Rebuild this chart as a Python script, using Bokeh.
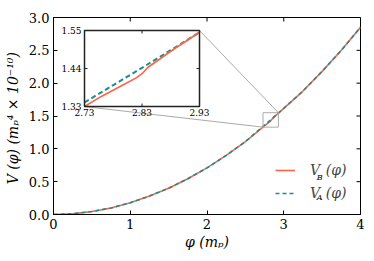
from bokeh.plotting import figure
from bokeh.models import Range1d, Legend, LegendItem, Label, FixedTicker, NumeralTickFormatter
from bokeh.core.properties import value
from bokeh.embed import file_html
from bokeh.resources import INLINE

# ---------------- data ----------------
phi_B = [0.0, 0.25, 0.5, 0.75, 1.0, 1.25, 1.5, 1.75, 2.0, 2.25, 2.5,
         2.73, 2.76, 2.80, 2.82, 2.83, 2.84, 2.88, 2.93,
         3.0, 3.25, 3.5, 3.75, 4.0]
V_B = [0.0, 0.01, 0.045, 0.10, 0.18, 0.28, 0.40, 0.545, 0.71, 0.90, 1.11,
       1.33, 1.36, 1.395, 1.413, 1.425, 1.443, 1.49, 1.545,
       1.615, 1.88, 2.18, 2.50, 2.85]

phi_A = [0.0, 0.25, 0.5, 0.75, 1.0, 1.25, 1.5, 1.75, 2.0, 2.25, 2.5,
         2.73, 2.78, 2.83, 2.88, 2.93,
         3.0, 3.25, 3.5, 3.75, 4.0]
V_A = [0.0, 0.01, 0.045, 0.10, 0.18, 0.28, 0.40, 0.545, 0.71, 0.90, 1.11,
       1.342, 1.392, 1.442, 1.493, 1.545,
       1.615, 1.88, 2.18, 2.50, 2.85]

x_ticks = [0, 1, 2, 3, 4]
y_ticks = [0.0, 0.5, 1.0, 1.5, 2.0, 2.5, 3.0]
inset_xlim = [2.73, 2.93]
inset_ylim = [1.33, 1.55]
inset_xticks = [2.73, 2.83, 2.93]
inset_yticks = [1.33, 1.44, 1.55]
inset_xlabels = ["2.73", "2.83", "2.93"]
inset_ylabels = ["1.33", "1.44", "1.55"]

# ---------------- style ----------------
C_B = "#ff6347"
C_A = "#17908f"
FONT = "DejaVu Serif"
ML, MR, MT, MB = 53, 6, 17, 39
FW, FH = 307, 197
W, H = ML + FW + MR, MT + FH + MB
# inset placement as fractions of the frame (left, right, bottom, top)
IL, IR, IB, IT = 0.101, 0.4756, 0.548, 0.934

p = figure(width=W, height=H, x_range=Range1d(0, 4), y_range=Range1d(0, 3.0),
           output_backend="svg", toolbar_location=None,
           min_border_left=ML, min_border_right=MR, min_border_top=MT, min_border_bottom=MB)
p.grid.visible = False
p.outline_line_color = "black"
p.outline_line_width = 1

for ax in (p.xaxis[0], p.yaxis[0]):
    ax.major_tick_in = 4
    ax.major_tick_out = 0
    ax.minor_tick_line_color = None
    ax.axis_line_color = "black"
    ax.major_tick_line_color = "black"
    ax.major_label_text_font = FONT
    ax.major_label_text_font_size = "13px"
    ax.major_label_text_color = "black"
    ax.axis_label_text_font = FONT
    ax.axis_label_text_font_size = "14px"
    ax.axis_label_text_font_style = "italic"
    ax.axis_label_text_color = "black"
p.xaxis.ticker = FixedTicker(ticks=x_ticks)
p.yaxis.ticker = FixedTicker(ticks=y_ticks)
p.yaxis.formatter = NumeralTickFormatter(format="0.0")
p.xaxis.major_label_standoff = 4
p.yaxis.major_label_standoff = 4
p.xaxis.axis_label = "φ (mₚ)"
p.yaxis.axis_label = "V (φ)  (mₚ⁴ × 10⁻¹⁰)"
p.xaxis.axis_label_standoff = 2
p.yaxis.axis_label_standoff = 5

# top / right inward ticks
tkx = 4 * (p.x_range.end - p.x_range.start) / FW
tky = 4 * (p.y_range.end - p.y_range.start) / FH
p.segment(x0=x_ticks, y0=[p.y_range.end] * len(x_ticks), x1=x_ticks,
          y1=[p.y_range.end - tky] * len(x_ticks), line_color="black", line_width=1)
p.segment(x0=[p.x_range.end] * len(y_ticks), y0=y_ticks, x1=[p.x_range.end - tkx] * len(y_ticks),
          y1=y_ticks, line_color="black", line_width=1)

# main curves
rB = p.line(phi_B, V_B, line_color=C_B, line_width=1.6)
rA = p.line(phi_A, V_A, line_color=C_A, line_width=1.6, line_dash="4 3")

# zoom box on main
p.quad(left=[inset_xlim[0]], right=[inset_xlim[1]], bottom=[inset_ylim[0]], top=[inset_ylim[1]],
       fill_color=None, line_color="#aaaaaa", line_width=1)

# inset ranges (inset data window placed at the inset fractions of the frame)
xs = (inset_xlim[1] - inset_xlim[0]) / (IR - IL)
ys = (inset_ylim[1] - inset_ylim[0]) / (IT - IB)
ix0 = inset_xlim[0] - IL * xs
iy0 = inset_ylim[0] - IB * ys
p.extra_x_ranges = {"ix": Range1d(ix0, ix0 + xs)}
p.extra_y_ranges = {"iy": Range1d(iy0, iy0 + ys)}

# connectors: zoom box corners to inset corners (in main coords)
mx = lambda f: p.x_range.start + f * (p.x_range.end - p.x_range.start)
my = lambda f: p.y_range.start + f * (p.y_range.end - p.y_range.start)
p.segment(x0=[inset_xlim[0], inset_xlim[1]], y0=[inset_ylim[0], inset_ylim[1]],
          x1=[mx(IL), mx(IR)], y1=[my(IB), my(IT)], line_color="#aaaaaa", line_width=1)

# inset background + frame
p.quad(left=[inset_xlim[0]], right=[inset_xlim[1]], bottom=[inset_ylim[0]], top=[inset_ylim[1]],
       fill_color="white", line_color=None, x_range_name="ix", y_range_name="iy")

inB = [(x, y) for x, y in zip(phi_B, V_B) if inset_xlim[0] <= x <= inset_xlim[1]]
inA = [(x, y) for x, y in zip(phi_A, V_A) if inset_xlim[0] <= x <= inset_xlim[1]]
p.line([a for a, b in inA], [b for a, b in inA], line_color=C_A, line_width=2,
       line_dash="5 3", x_range_name="ix", y_range_name="iy")
p.line([a for a, b in inB], [b for a, b in inB], line_color=C_B, line_width=1.6,
       x_range_name="ix", y_range_name="iy")

p.quad(left=[inset_xlim[0]], right=[inset_xlim[1]], bottom=[inset_ylim[0]], top=[inset_ylim[1]],
       fill_color=None, line_color="#222222", line_width=1.5, x_range_name="ix", y_range_name="iy")

# inset ticks (inward, 3 px)
tx = 3 * xs / FW
ty = 3 * ys / FH
p.segment(x0=inset_xticks, y0=[inset_ylim[0]] * 3, x1=inset_xticks, y1=[inset_ylim[0] + ty] * 3,
          line_color="#222222", x_range_name="ix", y_range_name="iy")
p.segment(x0=inset_xticks, y0=[inset_ylim[1]] * 3, x1=inset_xticks, y1=[inset_ylim[1] - ty] * 3,
          line_color="#222222", x_range_name="ix", y_range_name="iy")
p.segment(x0=[inset_xlim[0]] * 3, y0=inset_yticks, x1=[inset_xlim[0] + tx] * 3, y1=inset_yticks,
          line_color="#222222", x_range_name="ix", y_range_name="iy")
p.segment(x0=[inset_xlim[1]] * 3, y0=inset_yticks, x1=[inset_xlim[1] - tx] * 3, y1=inset_yticks,
          line_color="#222222", x_range_name="ix", y_range_name="iy")

p.text(x=inset_xticks, y=[inset_ylim[0]] * 3, text=inset_xlabels, x_range_name="ix", y_range_name="iy",
       text_font=value(FONT), text_font_size="9px", text_align="center", text_baseline="top",
       y_offset=2, text_color="black")
p.text(x=[inset_xlim[0]] * 3, y=inset_yticks, text=inset_ylabels, x_range_name="ix", y_range_name="iy",
       text_font=value(FONT), text_font_size="9px", text_align="right", text_baseline="middle",
       x_offset=-3, text_color="black")

# legend
legend = Legend(items=[LegendItem(label="V\u2009\u2009(φ)", renderers=[rB]),
                       LegendItem(label="V\u2009\u2009(φ)", renderers=[rA])],
                location=(222, 13), border_line_color=None, background_fill_color=None,
                padding=0, margin=0, spacing=7, glyph_width=20, glyph_height=14,
                label_height=14, label_standoff=15,
                label_text_font=FONT, label_text_font_size="14px", label_text_font_style="italic")
p.add_layout(legend)
for txt, yy in (("B", 0.571), ("A", 0.257)):
    p.add_layout(Label(x=3.43, y=yy, text=txt, text_font=FONT, text_font_size="8px",
                       text_font_style="italic", text_baseline="middle", text_color="black"))

open("out.html", "w").write(file_html(p, INLINE))
